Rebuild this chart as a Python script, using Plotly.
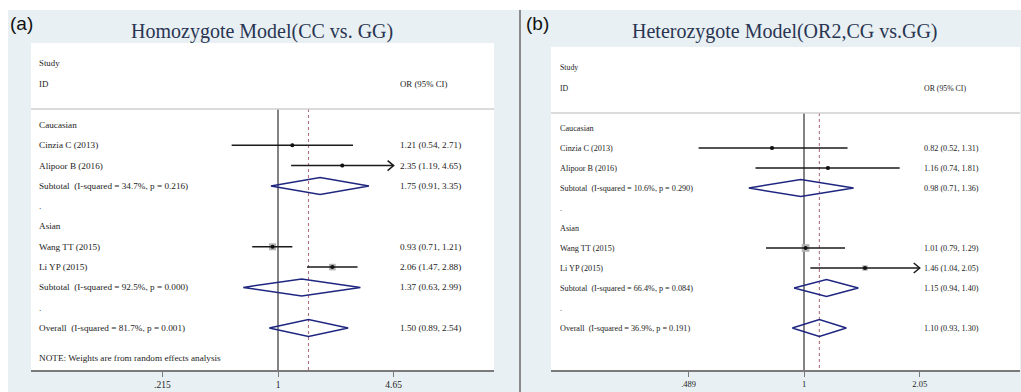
import math
import plotly.graph_objects as go

# ---------------- data ----------------
row_labels_a = ["Caucasian", "Cinzia C (2013)", "Alipoor B (2016)",
                "Subtotal  (I-squared = 34.7%, p = 0.216)", ".", "Asian",
                "Wang TT (2015)", "Li YP (2015)",
                "Subtotal  (I-squared = 92.5%, p = 0.000)", ".",
                "Overall  (I-squared = 81.7%, p = 0.001)"]
row_kind_a = ["group", "study", "study", "pooled", "gap", "group",
              "study", "study", "pooled", "gap", "pooled"]
or_a = [None, 1.21, 2.35, 1.75, None, None, 0.93, 2.06, 1.37, None, 1.50]
lo_a = [None, 0.54, 1.19, 0.91, None, None, 0.71, 1.47, 0.63, None, 0.89]
hi_a = [None, 2.71, 4.65, 3.35, None, None, 1.21, 2.88, 2.99, None, 2.54]
weight_a = [None, 9, 10, None, None, None, 43, 38, None, None, None]
ticks_a = [0.215, 1, 4.65]
ticktext_a = [".215", "1", "4.65"]
title_a = "Homozygote Model(CC vs. GG)"
note_a = "NOTE: Weights are from random effects analysis"

row_labels_b = ["Caucasian", "Cinzia C (2013)", "Alipoor B (2016)",
                "Subtotal  (I-squared = 10.6%, p = 0.290)", ".", "Asian",
                "Wang TT (2015)", "Li YP (2015)",
                "Subtotal  (I-squared = 66.4%, p = 0.084)", ".",
                "Overall  (I-squared = 36.9%, p = 0.191)"]
row_kind_b = row_kind_a
or_b = [None, 0.82, 1.16, 0.98, None, None, 1.01, 1.46, 1.15, None, 1.10]
lo_b = [None, 0.52, 0.74, 0.71, None, None, 0.79, 1.04, 0.94, None, 0.93]
hi_b = [None, 1.31, 1.81, 1.36, None, None, 1.29, 2.05, 1.40, None, 1.30]
weight_b = [None, 11, 11, None, None, None, 52, 26, None, None, None]
ticks_b = [0.489, 1, 2.05]
ticktext_b = [".489", "1", "2.05"]
title_b = "Heterozygote Model(OR2,CG vs.GG)"

header_study = "Study"
header_id = "ID"
header_or = "OR (95% CI)"
null_value = 1

# ---------------- styling / layout ----------------
W, H = 1021, 392
SERIF = "Liberation Serif, Times New Roman, serif"
SANS = "Liberation Sans, Arial, sans-serif"
BG = "#e8f0f3"
TXT = "#1c1c1c"
NAVY = "#1f2680"
REF = "#b0707e"

def px_x(p):
    return p / W

def px_y(p):
    return 1 - p / H

panels = [
    dict(labels=row_labels_a, kinds=row_kind_a, est=or_a, lo=lo_a, hi=hi_a, w=weight_a,
         ticks=ticks_a, ticktext=ticktext_a, title=title_a, note=note_a, tag="(a)",
         xa="x", ya="y", xdom=(31, 494), ydom=(43, 370), xr=(-1.426, 1.247), yr=(12.07, -4.04),
         fs=9.2, tfs=9.5, lab_x=0.012, or_x=0.793, sep=-0.79, study_r=-3.05, id_r=-2.02,
         title_xy=(262, 31), tag_xy=(8, 24)),
    dict(labels=row_labels_b, kinds=row_kind_b, est=or_b, lo=lo_b, hi=hi_b, w=weight_b,
         ticks=ticks_b, ticktext=ticktext_b, title=title_b, note=None, tag="(b)",
         xa="x2", ya="y2", xdom=(551, 1020), ydom=(47, 370), xr=(-0.6816, 0.5819), yr=(12.1, -4.05),
         fs=8.2, tfs=8.5, lab_x=0.014, or_x=0.791, sep=-0.75, study_r=-3.05, id_r=-2.0,
         title_xy=(785, 31), tag_xy=(524, 24)),
]

fig = go.Figure()
shapes = [dict(type="rect", xref="paper", yref="paper", x0=px_x(8), x1=1, y0=0, y1=px_y(10),
               fillcolor=BG, line=dict(width=0), layer="below")]
annotations = []
layout_axes = {}

for i, p in enumerate(panels):
    xa, ya = p["xa"], p["ya"]
    xkey = "xaxis" if i == 0 else "xaxis2"
    ykey = "yaxis" if i == 0 else "yaxis2"
    x0, x1 = p["xdom"]
    y0, y1 = p["ydom"]
    # white plotting area
    shapes.append(dict(type="rect", xref="paper", yref="paper", x0=px_x(x0), x1=px_x(x1),
                       y0=px_y(y1), y1=px_y(y0), fillcolor="white", line=dict(width=0), layer="below"))
    layout_axes[xkey] = dict(type="log", domain=[px_x(x0), px_x(x1)], range=list(p["xr"]),
                             anchor=ya, showgrid=False, zeroline=False, showline=True,
                             linecolor="#7a7a7a", linewidth=1.5, ticks="outside", ticklen=5,
                             tickcolor="#7a7a7a", tickwidth=1, tickmode="array",
                             tickvals=p["ticks"], ticktext=p["ticktext"],
                             tickfont=dict(family=SERIF, size=p["tfs"], color=TXT), fixedrange=True)
    layout_axes[ykey] = dict(domain=[px_y(y1), px_y(y0)], range=list(p["yr"]), anchor=xa,
                             showgrid=False, zeroline=False, showline=False, showticklabels=False,
                             ticks="", fixedrange=True)
    ybottom = p["yr"][0]
    # pixels per natural-log unit and per row, for arrow heads / diamonds
    ppl = (x1 - x0) / ((p["xr"][1] - p["xr"][0]) * math.log(10))
    ppr = (y1 - y0) / (p["yr"][0] - p["yr"][1])
    # separator line
    shapes.append(dict(type="line", xref=xa + " domain", yref=ya, x0=0, x1=1, y0=p["sep"], y1=p["sep"],
                       line=dict(color="#cfcfcf", width=1.5)))
    # null line
    fig.add_trace(go.Scatter(x=[null_value, null_value], y=[p["sep"], ybottom], mode="lines",
                             line=dict(color="#5a5a5a", width=1.5), xaxis=xa, yaxis=ya,
                             showlegend=False, hoverinfo="skip"))
    # overall reference line
    overall = p["est"][-1]
    fig.add_trace(go.Scatter(x=[overall, overall], y=[p["sep"], ybottom], mode="lines",
                             line=dict(color=REF, width=1.1, dash="3px,3px"), xaxis=xa, yaxis=ya,
                             showlegend=False, hoverinfo="skip"))
    tick_max = max(p["ticks"])
    for r, (lab, kind, e, lo, hi, w) in enumerate(zip(p["labels"], p["kinds"], p["est"], p["lo"], p["hi"], p["w"])):
        annotations.append(dict(xref=xa + " domain", yref=ya, x=p["lab_x"], y=r, text=lab,
                                showarrow=False, xanchor="left", yanchor="middle",
                                font=dict(family=SERIF, size=p["fs"], color=TXT)))
        if e is None:
            continue
        annotations.append(dict(xref=xa + " domain", yref=ya, x=p["or_x"], y=r,
                                text=f"{e:.2f} ({lo:.2f}, {hi:.2f})", showarrow=False,
                                xanchor="left", yanchor="middle",
                                font=dict(family=SERIF, size=p["fs"], color=TXT)))
        if kind == "study":
            fig.add_trace(go.Scatter(x=[e], y=[r], mode="markers",
                                     marker=dict(symbol="square", size=1.07 * math.sqrt(w), color="#b4b4b4",
                                                 line=dict(width=0)),
                                     xaxis=xa, yaxis=ya, showlegend=False, hoverinfo="skip"))
            fig.add_trace(go.Scatter(x=[lo, hi], y=[r, r], mode="lines",
                                     line=dict(color="#1a1a1a", width=1.5), xaxis=xa, yaxis=ya,
                                     showlegend=False, hoverinfo="skip"))
            fig.add_trace(go.Scatter(x=[e], y=[r], mode="markers",
                                     marker=dict(symbol="circle", size=4, color="#111111"),
                                     xaxis=xa, yaxis=ya, showlegend=False, hoverinfo="skip"))
            if hi >= tick_max:
                back = hi * math.exp(-6 / ppl)
                dy = 5 / ppr
                fig.add_trace(go.Scatter(x=[back, hi, back], y=[r - dy, r, r + dy], mode="lines",
                                         line=dict(color="#1a1a1a", width=1.5), xaxis=xa, yaxis=ya,
                                         showlegend=False, hoverinfo="skip"))
        else:
            dy = 8.5 / ppr
            fig.add_trace(go.Scatter(x=[lo, e, hi, e, lo], y=[r, r - dy, r, r + dy, r], mode="lines",
                                     line=dict(color=NAVY, width=1.5), xaxis=xa, yaxis=ya,
                                     showlegend=False, hoverinfo="skip"))
    # headers
    for txt, rr, xx in [(header_study, p["study_r"], p["lab_x"]), (header_id, p["id_r"], p["lab_x"]),
                        (header_or, p["id_r"], p["or_x"])]:
        annotations.append(dict(xref=xa + " domain", yref=ya, x=xx, y=rr, text=txt, showarrow=False,
                                xanchor="left", yanchor="middle",
                                font=dict(family=SERIF, size=p["fs"] - 0.4, color=TXT)))
    if p["note"]:
        annotations.append(dict(xref=xa + " domain", yref=ya, x=p["lab_x"], y=11.5, text=p["note"],
                                showarrow=False, xanchor="left", yanchor="middle",
                                font=dict(family=SERIF, size=p["fs"], color=TXT)))
    # title
    tx, ty = p["title_xy"]
    annotations.append(dict(xref="paper", yref="paper", x=px_x(tx), y=px_y(ty), text=p["title"],
                            showarrow=False, xanchor="center", yanchor="middle",
                            font=dict(family=SERIF, size=20, color="#2a3552")))
    gx, gy = p["tag_xy"]
    annotations.append(dict(xref="paper", yref="paper", x=px_x(gx), y=px_y(gy), text=p["tag"],
                            showarrow=False, xanchor="left", yanchor="middle",
                            font=dict(family=SANS, size=19, color="#111111")))

# panel divider
shapes.append(dict(type="line", xref="paper", yref="paper", x0=px_x(520), x1=px_x(520), y0=0, y1=px_y(10),
                   line=dict(color="#8a8a8a", width=2)))

fig.update_layout(width=W, height=H, margin=dict(l=0, r=0, t=0, b=0),
                  paper_bgcolor="white", plot_bgcolor="rgba(0,0,0,0)",
                  shapes=shapes, annotations=annotations, showlegend=False, **layout_axes)

fig.write_html("out.html", config={"displayModeBar": False})
